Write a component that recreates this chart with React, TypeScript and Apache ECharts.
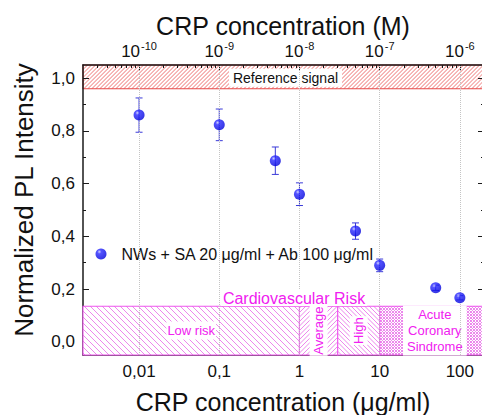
import React, { useEffect, useRef } from 'react';
import * as echarts from 'echarts';

// ---- data ----
const concentrations = [0.01, 0.1, 0.5, 1, 5, 10, 50, 100]; // μg/ml
const intensities = [0.86, 0.823, 0.687, 0.56, 0.42, 0.29, 0.205, 0.167];
const errors = [0.065, 0.06, 0.052, 0.043, 0.031, 0.024, 0.01, 0.008];
const seriesName = 'NWs + SA 20 μg/ml + Ab 100 μg/ml';

const bottomTicks = [0.01, 0.1, 1, 10, 100];
const bottomTickLabels = ['0,01', '0,1', '1', '10', '100'];
const topTickExponents = ['-10', '-9', '-8', '-7', '-6'];
const yTicks = [0, 0.2, 0.4, 0.6, 0.8, 1.0];
const yMinorTicks = [0.1, 0.3, 0.5, 0.7, 0.9];

const riskZones = ['Low risk', 'Average', 'High', 'Acute\nCoronary\nSindrome'];
const riskBounds = [0.002, 1, 3, 10, 200];
const riskTop = 0.135;
const referenceBand = [0.96, 1.05];
const referenceLabel = 'Reference signal';
const riskTitle = 'Cardiovascular Risk';

const xRange = [0.002, 200];
const yRange = [-0.05, 1.05];

// ---- styles ----
const FONT = "'Liberation Sans', Arial, sans-serif";
const MAGENTA_TEXT = '#f020f0';
const MAGENTA_LINE = '#ee55ee';
const MAGENTA_HATCH = '#ec88ec';
const RED_LINE = '#e84848';
const RED_HATCH = '#f08080';
const zoneStyles: Array<{ kind: 'slash' | 'back' | 'cross'; sp: number; vertical: boolean; pad: number[]; dx: number }> = [
  { kind: 'back', sp: 6, vertical: false, pad: [1, 1], dx: 0 },
  { kind: 'slash', sp: 4.5, vertical: true, pad: [1, 1], dx: 0 },
  { kind: 'back', sp: 4.5, vertical: true, pad: [1, 1], dx: 0 },
  { kind: 'cross', sp: 3, vertical: false, pad: [1, 4], dx: 3 },
];

const lg = (v: number) => Math.log10(v);

function hatchLines(x: number, y: number, w: number, h: number, s: number, kind: 'slash' | 'back' | 'cross', color: string) {
  const out: any[] = [];
  const x2 = x + w, y2 = y + h;
  const mk = (a: number, b: number, c: number, d: number) => ({
    type: 'line',
    shape: { x1: a, y1: b, x2: c, y2: d },
    style: { stroke: color, lineWidth: 1 },
  });
  if (kind === 'slash' || kind === 'cross') {
    const c0 = Math.ceil((x + y) / s) * s;
    for (let c = c0; c < x2 + y2; c += s) {
      const a = Math.max(x, c - y2);
      const b = Math.min(x2, c - y);
      if (b - a > 0.2) out.push(mk(a, c - a, b, c - b));
    }
  }
  if (kind === 'back' || kind === 'cross') {
    const d0 = Math.ceil((y - x2) / s) * s;
    for (let d = d0; d < y2 - x; d += s) {
      const a = Math.max(x, y - d);
      const b = Math.min(x2, y2 - d);
      if (b - a > 0.2) out.push(mk(a, a + d, b, b + d));
    }
  }
  return out;
}

// "/" stripes as thin filled polygons
function slashStripes(x: number, y: number, w: number, h: number, s: number, t: number, color: string) {
  const out: any[] = [];
  const x2 = x + w, y2 = y + h;
  const seg = (c: number) => {
    const a = Math.max(x, c - y2);
    const b = Math.min(x2, c - y);
    return [a, b];
  };
  const c0 = Math.ceil((x + y) / s) * s;
  for (let c = c0; c < x2 + y2; c += s) {
    const [a, b] = seg(c);
    const [a2, b2] = seg(c + t);
    if (b - a > 0.2 && b2 - a2 > 0.2) {
      out.push({
        type: 'polygon',
        silent: true,
        shape: { points: [[a, c - a], [b, c - b], [b2, c + t - b2], [a2, c + t - a2]] },
        style: { fill: color },
      });
    }
  }
  return out;
}

function minorValues(): number[] {
  const out: number[] = [];
  for (let n = -3; n <= 2; n++) {
    for (let k = 2; k <= 9; k++) {
      const v = k * Math.pow(10, n);
      if (v > xRange[0] && v < xRange[1]) out.push(lg(v));
    }
  }
  return out;
}

const centered = { align: 'center', verticalAlign: 'middle' };

function baseGraphics() {
  return [
    {
      type: 'text',
      x: 283,
      y: 26,
      style: { text: 'CRP concentration (M)', font: `25px ${FONT}`, lineHeight: 24, fill: '#111', ...centered },
    },
    {
      type: 'text',
      x: 283,
      y: 402,
      style: { text: 'CRP concentration (μg/ml)', font: `25px ${FONT}`, lineHeight: 24, fill: '#111', ...centered },
    },
    {
      type: 'text',
      x: 24,
      y: 200,
      rotation: Math.PI / 2,
      style: { text: 'Normalized PL Intensity', font: `26px ${FONT}`, fill: '#111', ...centered },
    },
    {
      type: 'text',
      x: 294,
      y: 298,
      z: 50,
      style: { text: riskTitle, font: `16px ${FONT}`, fill: MAGENTA_TEXT, ...centered, backgroundColor: '#fff', padding: [0, 2] },
    },
  ];
}

function buildOption() {
  const xMin = lg(xRange[0]);
  const xMax = lg(xRange[1]);
  const majorX = bottomTicks.map(lg);
  const minorX = minorValues();

  const axisLineStyle = { color: '#1a1a1a', width: 1.5 };
  const tickStyle = { color: '#1a1a1a', width: 1 };

  const baseX = { type: 'value' as const, min: xMin, max: xMax, splitLine: { show: false } };
  const baseY = { type: 'value' as const, min: yRange[0], max: yRange[1], splitLine: { show: false } };
  const lineOn = { show: true, onZero: false, lineStyle: axisLineStyle };
  const lineOff = { show: false, onZero: false };

  const zoneData = riskZones.map((_, i) => [lg(riskBounds[i]), lg(riskBounds[i + 1]), yRange[0], riskTop]);

  return {
    animation: false,
    backgroundColor: '#ffffff',
    textStyle: { fontFamily: FONT },
    grid: { left: 83, top: 65, width: 401, height: 290, containLabel: false, outerBoundsMode: 'none' },
    legend: {
      data: [seriesName],
      left: 95.5,
      top: 246,
      padding: 0,
      icon: 'circle',
      itemWidth: 11,
      itemHeight: 11,
      itemGap: 0,
      textStyle: { fontSize: 16, color: '#111', fontFamily: FONT, padding: [0, 0, 0, 10] },
    },
    xAxis: [
      {
        ...baseX,
        position: 'bottom',
        axisLine: lineOn,
        axisTick: { show: true, inside: true, length: 6, customValues: majorX, lineStyle: tickStyle },
        axisLabel: {
          customValues: majorX,
          margin: 8,
          fontSize: 17,
          color: '#111',
          fontFamily: FONT,
          formatter: (v: number) => {
            const i = majorX.findIndex((m) => Math.abs(m - v) < 1e-6);
            return i >= 0 ? bottomTickLabels[i] : '';
          },
        },
      },
      {
        ...baseX,
        position: 'top',
        axisLine: lineOn,
        axisTick: { show: true, inside: true, length: 6, customValues: majorX, lineStyle: tickStyle },
        axisLabel: {
          customValues: majorX,
          margin: 5,
          fontSize: 17,
          lineHeight: 20,
          color: '#111',
          fontFamily: FONT,
          formatter: (v: number) => {
            const i = majorX.findIndex((m) => Math.abs(m - v) < 1e-6);
            return i >= 0 ? '{base|10}{sup|' + topTickExponents[i] + '}' : '';
          },
          rich: {
            base: { fontSize: 17, lineHeight: 20, verticalAlign: 'bottom', color: '#111', fontFamily: FONT },
            sup: { fontSize: 11, lineHeight: 12, verticalAlign: 'top', color: '#111', fontFamily: FONT, padding: [0, 0, 0, 1] },
          },
        },
      },
      {
        ...baseX,
        position: 'bottom',
        axisLine: lineOff,
        axisTick: { show: true, inside: true, length: 3, customValues: minorX, lineStyle: tickStyle },
        axisLabel: { show: false },
      },
      {
        ...baseX,
        position: 'top',
        axisLine: lineOff,
        axisTick: { show: true, inside: true, length: 3, customValues: minorX, lineStyle: tickStyle },
        axisLabel: { show: false },
      },
    ],
    yAxis: [
      {
        ...baseY,
        position: 'left',
        axisLine: lineOn,
        axisTick: { show: true, inside: true, length: 6, customValues: yTicks, lineStyle: tickStyle },
        axisLabel: {
          customValues: yTicks,
          margin: 8,
          fontSize: 17,
          color: '#111',
          fontFamily: FONT,
          formatter: (v: number) => v.toFixed(1).replace('.', ','),
        },
      },
      {
        ...baseY,
        position: 'left',
        axisLine: lineOff,
        axisTick: { show: true, inside: true, length: 3, customValues: yMinorTicks, lineStyle: tickStyle },
        axisLabel: { show: false },
      },
      {
        ...baseY,
        position: 'right',
        axisLine: lineOn,
        axisTick: { show: true, inside: true, length: 6, customValues: yTicks, lineStyle: tickStyle },
        axisLabel: { show: false },
      },
      {
        ...baseY,
        position: 'right',
        axisLine: lineOff,
        axisTick: { show: true, inside: true, length: 3, customValues: yMinorTicks, lineStyle: tickStyle },
        axisLabel: { show: false },
      },
    ],
    graphic: baseGraphics(),
    series: [
      {
        type: 'custom',
        name: 'risk',
        xAxisIndex: 0,
        yAxisIndex: 0,
        z: 1,
        silent: true,
        data: zoneData,
        encode: { x: [0, 1], y: [2, 3] },
        renderItem: (params: any, api: any) => {
          const i = params.dataIndex;
          const st = zoneStyles[i];
          const p0 = api.coord([api.value(0), api.value(3)]);
          const p1 = api.coord([api.value(1), api.value(2)]);
          const x = p0[0], y = p0[1], w = p1[0] - p0[0], h = p1[1] - p0[1];
          return {
            type: 'group',
            children: [
              { type: 'rect', shape: { x, y, width: w, height: h }, style: { fill: '#ffffff' } },
              ...hatchLines(x, y, w, h, st.sp, st.kind, MAGENTA_HATCH),
              { type: 'rect', shape: { x, y, width: w, height: h }, style: { fill: 'none', stroke: MAGENTA_LINE, lineWidth: 1.1 } },
              {
                type: 'text',
                x: x + w / 2 + st.dx,
                y: y + h / 2,
                rotation: st.vertical ? Math.PI / 2 : 0,
                style: {
                  text: riskZones[i],
                  font: `13px ${FONT}`,
                  fill: MAGENTA_TEXT,
                  ...centered,
                  lineHeight: 16,
                  backgroundColor: '#ffffff',
                  padding: st.pad,
                },
              },
            ],
          };
        },
      },
      {
        type: 'custom',
        name: 'errors',
        xAxisIndex: 0,
        yAxisIndex: 0,
        z: 3,
        silent: true,
        data: concentrations.map((c, i) => [lg(c), intensities[i], errors[i]]),
        encode: { x: 0, y: 1 },
        renderItem: (params: any, api: any) => {
          const xv = api.value(0), yv = api.value(1), e = api.value(2);
          const top = api.coord([xv, yv + e]);
          const bot = api.coord([xv, yv - e]);
          const cx = top[0];
          const hw = 3.5;
          const mk = (a: number, b: number, c: number, d: number) => ({
            type: 'line',
            shape: { x1: a, y1: b, x2: c, y2: d },
            style: { stroke: '#3a3ad8', lineWidth: 1 },
          });
          return {
            type: 'group',
            children: [
              mk(cx, top[1], cx, bot[1]),
              mk(cx - hw, top[1], cx + hw, top[1]),
              mk(cx - hw, bot[1], cx + hw, bot[1]),
            ],
          };
        },
        markLine: {
          silent: true,
          symbol: 'none',
          label: { show: false },
          lineStyle: { type: 'dotted', color: '#c4c4c4', width: 1 },
          data: majorX.map((v) => ({ xAxis: v })),
        },
      },
      {
        type: 'scatter',
        name: seriesName,
        xAxisIndex: 0,
        yAxisIndex: 0,
        z: 5,
        symbol: 'circle',
        symbolSize: 11,
        itemStyle: {
          color: {
            type: 'radial',
            x: 0.35,
            y: 0.3,
            r: 0.75,
            colorStops: [
              { offset: 0, color: '#c4c4ff' },
              { offset: 0.25, color: '#2828ff' },
              { offset: 1, color: '#0000d8' },
            ],
          },
        },
        data: concentrations.map((c, i) => [lg(c), intensities[i]]),
      },
    ],
  };
}

export default function App() {
  const ref = useRef<HTMLDivElement>(null);
  useEffect(() => {
    const chart = echarts.init(ref.current!, null, { renderer: 'svg' });
    chart.setOption(buildOption() as any);
    // reference band, positioned through the chart's own scales
    const finder = { xAxisIndex: 0, yAxisIndex: 0 };
    const tl = chart.convertToPixel(finder, [lg(xRange[0]), referenceBand[1]]) as number[];
    const br = chart.convertToPixel(finder, [lg(xRange[1]), referenceBand[0]]) as number[];
    const x = tl[0], y = tl[1], w = br[0] - tl[0], h = br[1] - tl[1];
    const band = {
      type: 'group',
      z: 2,
      silent: true,
      children: [
        { type: 'rect', shape: { x, y, width: w, height: h }, style: { fill: '#ffffff' } },
        ...slashStripes(x, y, w, h, 4, 1.1, RED_HATCH),
        { type: 'rect', shape: { x, y, width: w, height: h }, style: { fill: 'none', stroke: RED_LINE, lineWidth: 1.1 } },
        {
          type: 'text',
          x: x + w / 2 + 2,
          y: y + h / 2 + 1,
          style: { text: referenceLabel, font: `14px ${FONT}`, fill: '#111', ...centered, backgroundColor: '#ffffff', padding: [2, 4] },
        },
      ],
    };
    chart.setOption({ graphic: [...baseGraphics(), band] } as any, { replaceMerge: ['graphic'] } as any);
    return () => chart.dispose();
  }, []);
  return (
    <div
      ref={ref}
      style={{ position: 'absolute', left: 0, top: 0, width: 482, height: 415, background: '#fff' }}
    />
  );
}
